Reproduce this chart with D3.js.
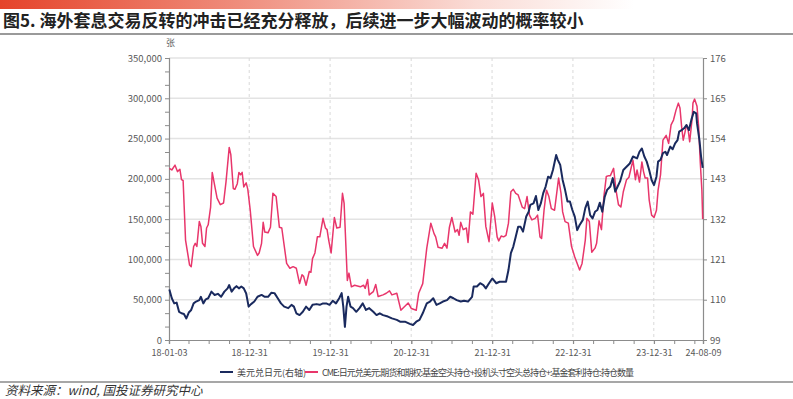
<!DOCTYPE html>
<html>
<head>
<meta charset="utf-8">
<script src="https://cdn.jsdelivr.net/npm/d3@7"></script>
<style>
  body { margin: 0; background: #fff; }
  svg { display: block; font-family: "Noto Sans CJK SC", "Noto Sans", sans-serif; }
</style>
</head>
<body>
<div class="chart"></div>
<script>
"use strict";

const title = "图5. 海外套息交易反转的冲击已经充分释放，后续进一步大幅波动的概率较小";
const source = "资料来源：wind, 国投证券研究中心";
const seriesNames = ["美元兑日元(右轴)", "CME:日元兑美元:期货和期权:基金空头持仓+投机头寸空头总持仓+:基金套利持仓:持仓数量"];

const leftTicks = [0, 50000, 100000, 150000, 200000, 250000, 300000, 350000];
const rightTicks = [99, 110, 121, 132, 143, 154, 165, 176];
const dateTicks = ["2018-01-03", "2018-12-31", "2019-12-31", "2020-12-31", "2021-12-31", "2022-12-31", "2023-12-31", "2024-08-09"];

// CME positions, [decimal year, contracts in thousands]
const cme = [
  [2018.01, 213], [2018.04, 211], [2018.08, 217], [2018.11, 209], [2018.14, 212], [2018.16, 199],
  [2018.18, 198], [2018.21, 124], [2018.26, 93], [2018.28, 91], [2018.31, 116], [2018.33, 120],
  [2018.35, 116], [2018.38, 147], [2018.40, 141], [2018.42, 120], [2018.45, 116], [2018.47, 139],
  [2018.49, 143], [2018.52, 165], [2018.54, 208], [2018.57, 192], [2018.60, 176], [2018.64, 168],
  [2018.68, 170], [2018.71, 196], [2018.75, 239], [2018.77, 230], [2018.80, 188], [2018.82, 187],
  [2018.85, 194], [2018.87, 208], [2018.89, 205], [2018.91, 208], [2018.93, 190], [2018.96, 195],
  [2018.98, 187], [2019.01, 161], [2019.05, 116], [2019.10, 105], [2019.12, 108], [2019.15, 120],
  [2019.17, 146], [2019.19, 134], [2019.23, 133], [2019.26, 140], [2019.29, 182], [2019.33, 178],
  [2019.37, 140], [2019.40, 139], [2019.46, 95], [2019.50, 89], [2019.54, 91], [2019.58, 89],
  [2019.62, 70], [2019.65, 81], [2019.67, 79], [2019.70, 68], [2019.74, 85], [2019.76, 84],
  [2019.78, 101], [2019.81, 108], [2019.84, 128], [2019.87, 128], [2019.91, 151], [2019.94, 139],
  [2019.96, 137], [2019.98, 124], [2020.01, 108], [2020.05, 152], [2020.08, 139], [2020.12, 140],
  [2020.15, 182], [2020.17, 170], [2020.21, 74], [2020.23, 83], [2020.26, 66], [2020.30, 68],
  [2020.37, 66], [2020.41, 68], [2020.43, 64], [2020.46, 75], [2020.48, 56], [2020.53, 60],
  [2020.56, 69], [2020.59, 54], [2020.65, 56], [2020.69, 58], [2020.73, 61], [2020.76, 56],
  [2020.82, 58], [2020.87, 37], [2020.91, 41], [2020.96, 46], [2021.00, 39], [2021.06, 37],
  [2021.09, 58], [2021.14, 70], [2021.19, 114], [2021.24, 145], [2021.28, 132], [2021.30, 128],
  [2021.33, 115], [2021.38, 114], [2021.41, 120], [2021.44, 114], [2021.47, 140], [2021.50, 152],
  [2021.54, 134], [2021.57, 137], [2021.59, 130], [2021.61, 146], [2021.64, 137], [2021.68, 139],
  [2021.70, 121], [2021.73, 159], [2021.76, 156], [2021.80, 207], [2021.83, 199], [2021.86, 178],
  [2021.89, 182], [2021.92, 141], [2021.96, 122], [2022.00, 170], [2022.03, 153], [2022.06, 128],
  [2022.08, 123], [2022.11, 129], [2022.14, 128], [2022.17, 130], [2022.20, 145], [2022.23, 184],
  [2022.26, 187], [2022.29, 182], [2022.32, 180], [2022.34, 174], [2022.37, 165], [2022.40, 163],
  [2022.43, 178], [2022.46, 155], [2022.49, 149], [2022.53, 151], [2022.56, 155], [2022.59, 128],
  [2022.61, 126], [2022.64, 161], [2022.67, 186], [2022.70, 178], [2022.73, 163], [2022.77, 161],
  [2022.82, 201], [2022.85, 182], [2022.87, 159], [2022.90, 147], [2022.94, 145], [2022.98, 116],
  [2023.02, 103], [2023.08, 87], [2023.11, 95], [2023.15, 124], [2023.17, 151], [2023.20, 147],
  [2023.23, 109], [2023.27, 114], [2023.29, 120], [2023.32, 148], [2023.35, 137], [2023.38, 178],
  [2023.41, 203], [2023.44, 204], [2023.46, 204], [2023.50, 213], [2023.53, 186], [2023.56, 168],
  [2023.59, 165], [2023.62, 184], [2023.66, 199], [2023.69, 202], [2023.72, 215], [2023.74, 223],
  [2023.77, 199], [2023.79, 211], [2023.82, 196], [2023.85, 221], [2023.87, 209], [2023.89, 201],
  [2023.92, 201], [2023.94, 174], [2023.97, 155], [2024.00, 152], [2024.03, 161], [2024.05, 186],
  [2024.08, 205], [2024.11, 248], [2024.15, 254], [2024.18, 244], [2024.21, 267], [2024.24, 273],
  [2024.27, 285], [2024.30, 294], [2024.32, 288], [2024.34, 265], [2024.36, 248], [2024.38, 257],
  [2024.40, 267], [2024.42, 261], [2024.44, 246], [2024.47, 275], [2024.48, 294], [2024.50, 299],
  [2024.53, 290], [2024.55, 265], [2024.57, 221], [2024.59, 186], [2024.60, 150]
];

// USD/JPY, [decimal year, rate]
const usdjpy = [
  [2018.01, 112.8], [2018.04, 110.4], [2018.07, 109.0], [2018.10, 109.2], [2018.13, 106.7], [2018.16, 106.3],
  [2018.19, 106.1], [2018.22, 104.9], [2018.25, 106.5], [2018.28, 107.2], [2018.31, 109.0], [2018.34, 109.5],
  [2018.38, 109.9], [2018.40, 110.8], [2018.43, 109.0], [2018.46, 110.1], [2018.49, 110.4], [2018.53, 112.2],
  [2018.57, 111.3], [2018.61, 111.6], [2018.65, 110.8], [2018.69, 112.2], [2018.73, 113.1], [2018.75, 114.0],
  [2018.78, 112.2], [2018.81, 113.1], [2018.84, 113.7], [2018.87, 113.1], [2018.90, 113.6], [2018.93, 113.1],
  [2018.96, 111.7], [2018.99, 108.1], [2019.02, 108.8], [2019.06, 109.5], [2019.10, 110.8], [2019.15, 111.3],
  [2019.19, 110.8], [2019.23, 110.8], [2019.27, 111.9], [2019.31, 111.8], [2019.35, 110.4], [2019.39, 109.0],
  [2019.43, 108.1], [2019.48, 107.7], [2019.52, 108.6], [2019.55, 108.1], [2019.58, 106.3], [2019.62, 105.8],
  [2019.66, 106.7], [2019.70, 108.1], [2019.74, 107.2], [2019.78, 108.6], [2019.83, 108.8], [2019.87, 108.6],
  [2019.91, 109.0], [2019.95, 109.0], [2019.99, 108.6], [2020.03, 109.7], [2020.07, 109.0], [2020.11, 110.4],
  [2020.14, 111.8], [2020.16, 108.1], [2020.18, 102.6], [2020.20, 108.1], [2020.22, 110.8], [2020.25, 108.1],
  [2020.28, 107.7], [2020.32, 106.7], [2020.36, 107.7], [2020.40, 109.0], [2020.44, 107.2], [2020.48, 107.7],
  [2020.53, 106.7], [2020.57, 105.8], [2020.61, 106.3], [2020.65, 105.8], [2020.71, 105.4], [2020.76, 104.9],
  [2020.82, 104.5], [2020.86, 104.0], [2020.92, 104.0], [2020.98, 103.4], [2021.02, 103.1], [2021.06, 104.0],
  [2021.10, 104.5], [2021.14, 106.3], [2021.19, 109.0], [2021.23, 109.5], [2021.27, 110.4], [2021.31, 108.6],
  [2021.35, 109.0], [2021.39, 109.5], [2021.44, 109.9], [2021.48, 110.8], [2021.52, 110.4], [2021.56, 109.9],
  [2021.61, 109.5], [2021.65, 109.7], [2021.70, 109.5], [2021.75, 110.8], [2021.77, 113.6], [2021.81, 113.6],
  [2021.85, 114.5], [2021.89, 114.0], [2021.92, 113.1], [2021.96, 114.5], [2022.00, 115.8], [2022.05, 114.5],
  [2022.09, 114.9], [2022.14, 114.9], [2022.17, 114.9], [2022.20, 118.1], [2022.23, 122.7], [2022.26, 124.5],
  [2022.29, 127.2], [2022.32, 129.9], [2022.35, 129.9], [2022.38, 128.6], [2022.42, 132.7], [2022.45, 134.0],
  [2022.47, 135.9], [2022.51, 136.3], [2022.54, 138.3], [2022.57, 134.5], [2022.60, 136.3], [2022.63, 139.1],
  [2022.66, 140.9], [2022.69, 143.6], [2022.72, 143.2], [2022.75, 145.4], [2022.79, 149.5], [2022.81, 148.2],
  [2022.84, 146.8], [2022.87, 142.7], [2022.90, 140.0], [2022.93, 136.8], [2022.96, 136.8], [2022.99, 134.5],
  [2023.02, 132.7], [2023.05, 129.0], [2023.08, 130.4], [2023.12, 131.8], [2023.15, 135.0], [2023.18, 136.8],
  [2023.21, 133.1], [2023.24, 132.2], [2023.27, 134.0], [2023.30, 134.5], [2023.33, 136.5], [2023.36, 134.0],
  [2023.39, 138.1], [2023.42, 140.0], [2023.46, 140.9], [2023.49, 143.2], [2023.52, 139.5], [2023.55, 140.9],
  [2023.58, 142.3], [2023.62, 145.4], [2023.66, 146.3], [2023.70, 147.2], [2023.74, 149.1], [2023.79, 148.6],
  [2023.82, 150.4], [2023.85, 151.3], [2023.88, 149.1], [2023.91, 147.7], [2023.94, 145.4], [2023.97, 142.7],
  [2024.00, 141.3], [2024.03, 143.6], [2024.05, 147.7], [2024.08, 148.2], [2024.11, 150.0], [2024.14, 150.4],
  [2024.16, 149.5], [2024.20, 151.8], [2024.23, 151.1], [2024.26, 152.7], [2024.29, 153.6], [2024.31, 155.9],
  [2024.34, 156.3], [2024.37, 156.8], [2024.40, 157.7], [2024.43, 156.3], [2024.46, 159.1], [2024.49, 161.3],
  [2024.52, 160.9], [2024.53, 158.2], [2024.56, 153.6], [2024.58, 149.1], [2024.60, 146.0]
];

const navy = "#1a2a5e";
const pink = "#e8366b";

const W = 793, H = 399;
const margin = { top: 58, right: 90, bottom: 59, left: 169 };
const width = W - margin.left - margin.right;
const height = H - margin.top - margin.bottom;

const parse = d3.timeParse("%Y-%m-%d");
const fmt = d3.timeFormat("%y-%m-%d");

function yearToDate(t) {
  const y = Math.floor(t);
  const a = new Date(y, 0, 1), b = new Date(y + 1, 0, 1);
  return new Date(+a + (t - y) * (b - a));
}

const svg = d3
  .select(".chart")
  .append("svg")
  .attr("width", W)
  .attr("height", H);

// header band
const grad = svg.append("defs").append("linearGradient").attr("id", "band");
grad.append("stop").attr("offset", "0%").attr("stop-color", "#e5432a");
grad.append("stop").attr("offset", "30%").attr("stop-color", "#ef8d7c");
grad.append("stop").attr("offset", "60%").attr("stop-color", "#fadcd6");
grad.append("stop").attr("offset", "80%").attr("stop-color", "#ffffff");
svg.append("rect").attr("width", W).attr("height", 9).attr("fill", "url(#band)");

svg
  .append("text")
  .attr("x", 3)
  .attr("y", 27)
  .attr("font-size", "17px")
  .attr("font-weight", 700)
  .attr("fill", "#222")
  .text(title);

svg.append("line").attr("x1", 0).attr("x2", W).attr("y1", 34).attr("y2", 34)
  .attr("stroke", "#9a9a9a").attr("stroke-width", 2);

const g = svg.append("g").attr("transform", `translate(${margin.left},${margin.top})`);

const x = d3.scaleTime()
  .domain([parse(dateTicks[0]), parse(dateTicks[dateTicks.length - 1])])
  .range([0, width]);
const yL = d3.scaleLinear().domain([0, 350000]).range([height, 0]);
const yR = d3.scaleLinear().domain([99, 176]).range([height, 0]);

// grid lines
g.append("g")
  .selectAll("line")
  .data(leftTicks.slice(1))
  .join("line")
  .attr("x1", 0).attr("x2", width)
  .attr("y1", (d) => yL(d)).attr("y2", (d) => yL(d))
  .attr("stroke", "#e3e3e3").attr("stroke-width", 1.5);

g.append("g")
  .selectAll("line")
  .data(dateTicks.slice(1, -1).map(parse))
  .join("line")
  .attr("x1", (d) => x(d)).attr("x2", (d) => x(d))
  .attr("y1", 0).attr("y2", height)
  .attr("stroke", "#d9d9d9").attr("stroke-dasharray", "3,3");

// left axis, minor ticks at thirds
const minorLeft = d3.range(0, 350001, 50000 / 3);
const yAxisL = d3.axisLeft(yL).tickValues(minorLeft).tickSize(4)
  .tickFormat((d) => (leftTicks.some((t) => Math.abs(t - d) < 1) ? d3.format(",")(Math.round(d)) : ""));
g.append("g").attr("class", "axis").call(yAxisL);

const yAxisR = d3.axisRight(yR).tickValues(rightTicks).tickSize(4);
g.append("g").attr("class", "axis").attr("transform", `translate(${width},0)`).call(yAxisR);

const quarters = d3.timeMonth.every(3).range(x.domain()[0], x.domain()[1]);
const xAxisMinor = d3.axisBottom(x).tickValues(quarters).tickSize(4).tickFormat("");
g.append("g").attr("class", "axis").attr("transform", `translate(0,${height})`).call(xAxisMinor);
const xAxis = d3.axisBottom(x).tickValues(dateTicks.map(parse)).tickSize(4).tickPadding(6).tickFormat(fmt);
g.append("g").attr("class", "axis x-axis").attr("transform", `translate(0,${height})`).call(xAxis);

g.selectAll(".axis path.domain").attr("stroke", "#8c8c8c").attr("stroke-width", 1.2);
g.selectAll(".axis .tick line").attr("stroke", "#8c8c8c");
g.selectAll(".axis text").attr("fill", "#595959").attr("font-size", "9.5px")
  .attr("font-family", "'Noto Sans CJK SC', sans-serif");

// keep the end dates clear of the corner labels
g.selectAll(".x-axis .tick text").attr("font-size", "9px");

g.append("text")
  .attr("x", -3)
  .attr("y", -12)
  .attr("font-size", "9px")
  .attr("fill", "#666")
  .text("张");

// lines
const cmeLine = d3.line()
  .x((d) => x(yearToDate(d[0])))
  .y((d) => yL(d[1] * 1000));
const fxLine = d3.line()
  .x((d) => x(yearToDate(d[0])))
  .y((d) => yR(d[1]));

g.append("path")
  .datum(cme)
  .attr("fill", "none")
  .attr("stroke", pink)
  .attr("stroke-width", 1.5)
  .attr("stroke-linejoin", "round")
  .attr("d", cmeLine);

g.append("path")
  .datum(usdjpy)
  .attr("fill", "none")
  .attr("stroke", navy)
  .attr("stroke-width", 2)
  .attr("stroke-linejoin", "round")
  .attr("d", fxLine);

// legend
const legend = svg.append("g").attr("transform", "translate(220,372)");
legend.append("line").attr("x1", 0).attr("x2", 13).attr("stroke", navy).attr("stroke-width", 2);
legend.append("text").attr("x", 17).attr("y", 3.5).attr("font-size", "9px").attr("fill", "#444").text(seriesNames[0]);
legend.append("line").attr("x1", 85).attr("x2", 98).attr("stroke", pink).attr("stroke-width", 2);
legend.append("text").attr("x", 102).attr("y", 3.5).attr("font-size", "9px").attr("fill", "#444")
  .attr("textLength", 312).text(seriesNames[1]);

svg.append("line").attr("x1", 0).attr("x2", W).attr("y1", 382).attr("y2", 382)
  .attr("stroke", "#8a8a8a").attr("stroke-width", 1.5);

svg
  .append("text")
  .attr("x", 5)
  .attr("y", 395)
  .attr("font-size", "12.5px")
  .attr("font-style", "italic")
  .attr("fill", "#333")
  .text(source);
</script>
</body>
</html>
